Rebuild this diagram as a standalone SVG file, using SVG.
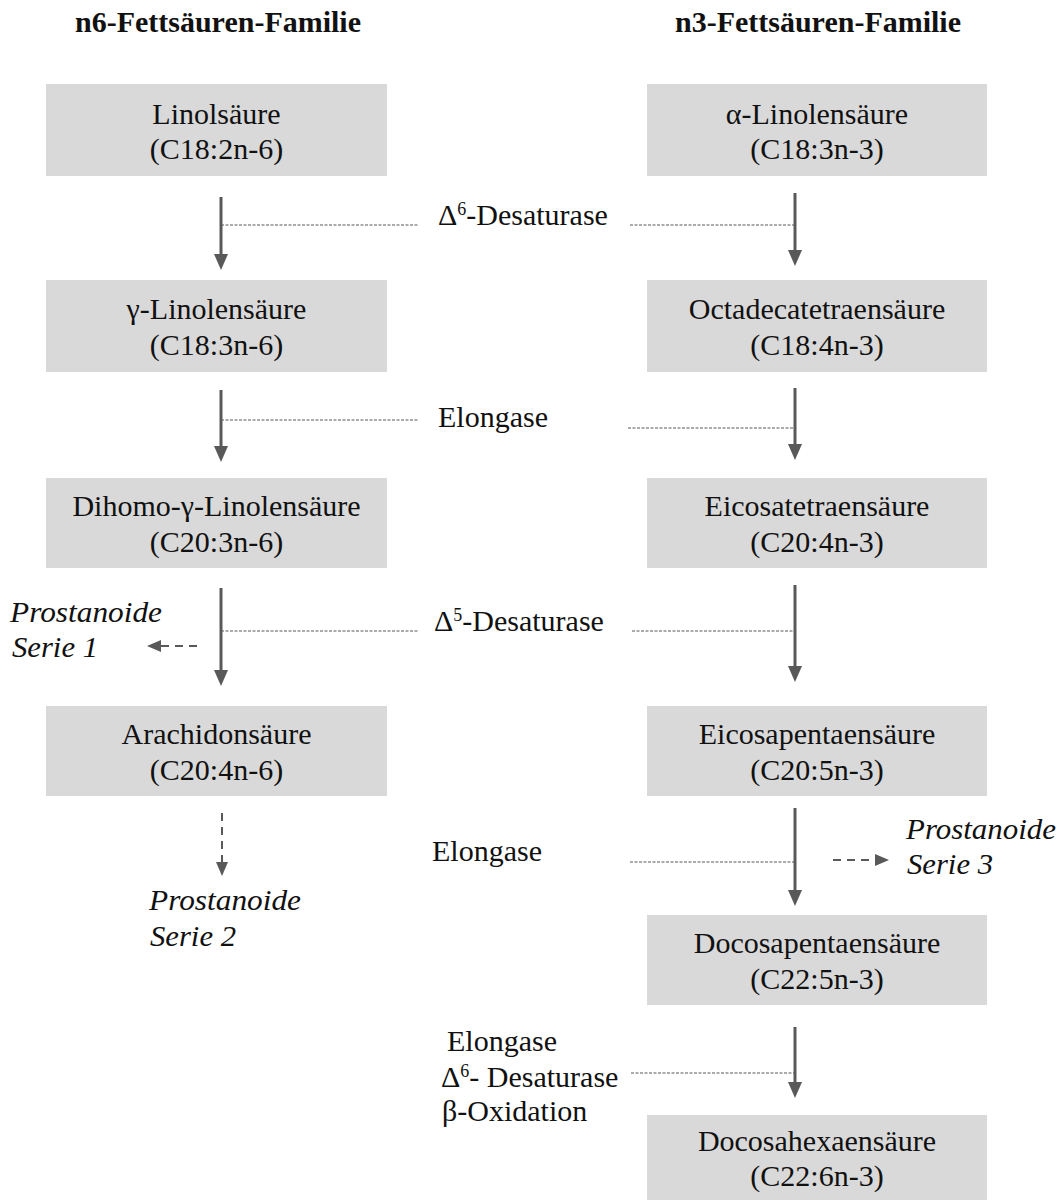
<svg xmlns="http://www.w3.org/2000/svg" width="1060" height="1200" viewBox="0 0 1060 1200">
  <style>
    text { font-family: "Liberation Serif", "Times New Roman", serif; font-size: 30px; fill: #111; }
    .title { font-weight: bold; text-anchor: middle; }
    .box { fill: #d9d9d9; }
    .bt { text-anchor: middle; }
    .it { font-style: italic; }
    .arrow { stroke: #595959; stroke-width: 3; fill: none; }
    .dot { stroke: #595959; stroke-width: 1.2; stroke-dasharray: 3 1.5; fill: none; }
    .dash { stroke: #595959; stroke-width: 2; stroke-dasharray: 8 6; fill: none; }
    .sup { font-size: 18px; }
  </style>
  <defs>
    <marker id="head" viewBox="0 0 16 16" markerWidth="16" markerHeight="16" refX="8" refY="8" orient="auto" markerUnits="userSpaceOnUse">
      <path d="M0,1 L16,8 L0,15 Z" fill="#595959"/>
    </marker>
    <marker id="headS" viewBox="0 0 14 14" markerWidth="14" markerHeight="14" refX="7" refY="7" orient="auto" markerUnits="userSpaceOnUse">
      <path d="M0,1 L14,7 L0,13 Z" fill="#595959"/>
    </marker>
  </defs>

  <g id="titles">
    <text class="title" x="218" y="32">n6-Fettsäuren-Familie</text>
    <text class="title" x="818" y="32">n3-Fettsäuren-Familie</text>
  </g>

  <!-- n6 nodes -->
  <g id="linolsaeure">
    <rect class="box" x="46" y="84" width="341" height="92"/>
    <text class="bt" x="216.5" y="124">Linolsäure</text>
    <text class="bt" x="216.5" y="159">(C18:2n-6)</text>
  </g>
  <g id="gamma-linolensaeure">
    <rect class="box" x="46" y="280" width="341" height="92"/>
    <text class="bt" x="216.5" y="319">γ-Linolensäure</text>
    <text class="bt" x="216.5" y="355">(C18:3n-6)</text>
  </g>
  <g id="dihomo-gamma-linolensaeure">
    <rect class="box" x="46" y="478" width="341" height="90"/>
    <text class="bt" x="216.5" y="516">Dihomo-γ-Linolensäure</text>
    <text class="bt" x="216.5" y="552">(C20:3n-6)</text>
  </g>
  <g id="arachidonsaeure">
    <rect class="box" x="46" y="706" width="341" height="90"/>
    <text class="bt" x="216.5" y="744">Arachidonsäure</text>
    <text class="bt" x="216.5" y="780">(C20:4n-6)</text>
  </g>
  <g id="prostanoide1">
    <text class="it" x="10" y="622" textLength="152" lengthAdjust="spacingAndGlyphs">Prostanoide</text>
    <text class="it" x="12" y="657" textLength="86" lengthAdjust="spacingAndGlyphs">Serie 1</text>
  </g>
  <g id="prostanoide2">
    <text class="it" x="149" y="910" textLength="152" lengthAdjust="spacingAndGlyphs">Prostanoide</text>
    <text class="it" x="150" y="946" textLength="86" lengthAdjust="spacingAndGlyphs">Serie 2</text>
  </g>

  <!-- n3 nodes -->
  <g id="alpha-linolensaeure">
    <rect class="box" x="647" y="84" width="340" height="92"/>
    <text class="bt" x="817" y="124">α-Linolensäure</text>
    <text class="bt" x="817" y="159">(C18:3n-3)</text>
  </g>
  <g id="octadecatetraensaeure">
    <rect class="box" x="647" y="280" width="340" height="92"/>
    <text class="bt" x="817" y="319">Octadecatetraensäure</text>
    <text class="bt" x="817" y="355">(C18:4n-3)</text>
  </g>
  <g id="eicosatetraensaeure">
    <rect class="box" x="647" y="478" width="340" height="90"/>
    <text class="bt" x="817" y="516">Eicosatetraensäure</text>
    <text class="bt" x="817" y="552">(C20:4n-3)</text>
  </g>
  <g id="eicosapentaensaeure">
    <rect class="box" x="647" y="706" width="340" height="90"/>
    <text class="bt" x="817" y="744">Eicosapentaensäure</text>
    <text class="bt" x="817" y="780">(C20:5n-3)</text>
  </g>
  <g id="docosapentaensaeure">
    <rect class="box" x="647" y="915" width="340" height="90"/>
    <text class="bt" x="817" y="953">Docosapentaensäure</text>
    <text class="bt" x="817" y="989">(C22:5n-3)</text>
  </g>
  <g id="docosahexaensaeure">
    <rect class="box" x="647" y="1115" width="340" height="90"/>
    <text class="bt" x="817" y="1151">Docosahexaensäure</text>
    <text class="bt" x="817" y="1186">(C22:6n-3)</text>
  </g>
  <g id="prostanoide3">
    <text class="it" x="906" y="839" textLength="150" lengthAdjust="spacingAndGlyphs">Prostanoide</text>
    <text class="it" x="907" y="874" textLength="86" lengthAdjust="spacingAndGlyphs">Serie 3</text>
  </g>

  <!-- enzyme labels -->
  <g id="enzymes">
    <text x="438" y="225">Δ<tspan class="sup" dy="-10">6</tspan><tspan dy="10">-Desaturase</tspan></text>
    <text x="438" y="427">Elongase</text>
    <text x="434" y="631">Δ<tspan class="sup" dy="-10">5</tspan><tspan dy="10">-Desaturase</tspan></text>
    <text x="432" y="861">Elongase</text>
    <text x="447" y="1051">Elongase</text>
    <text x="441" y="1087">Δ<tspan class="sup" dy="-10">6</tspan><tspan dy="10">- Desaturase</tspan></text>
    <text x="442" y="1121">β-Oxidation</text>
  </g>

  <g id="connectors">
    <!-- row 1 -->
    <line class="arrow" x1="221" y1="197" x2="221" y2="262" marker-end="url(#head)"/>
    <line class="dot" x1="221" y1="225" x2="418" y2="225"/>
    <line class="dot" x1="630" y1="225" x2="795" y2="225"/>
    <line class="arrow" x1="795" y1="193" x2="795" y2="258" marker-end="url(#head)"/>
    <!-- row 2 -->
    <line class="arrow" x1="221" y1="390" x2="221" y2="454" marker-end="url(#head)"/>
    <line class="dot" x1="221" y1="420" x2="418" y2="420"/>
    <line class="dot" x1="628" y1="428" x2="795" y2="428"/>
    <line class="arrow" x1="795" y1="388" x2="795" y2="452" marker-end="url(#head)"/>
    <!-- row 3 -->
    <line class="arrow" x1="221" y1="588" x2="221" y2="678" marker-end="url(#head)"/>
    <line class="dot" x1="221" y1="631" x2="418" y2="631"/>
    <line class="dot" x1="632" y1="631" x2="795" y2="631"/>
    <line class="arrow" x1="795" y1="585" x2="795" y2="674" marker-end="url(#head)"/>
    <line class="dash" x1="197" y1="646" x2="154" y2="646" marker-end="url(#headS)"/>
    <!-- row 4 -->
    <line class="dash" x1="222" y1="813" x2="222" y2="869" marker-end="url(#headS)"/>
    <line class="arrow" x1="795" y1="808" x2="795" y2="898" marker-end="url(#head)"/>
    <line class="dot" x1="630" y1="862" x2="795" y2="862"/>
    <line class="dash" x1="833" y1="860" x2="882" y2="860" marker-end="url(#headS)"/>
    <!-- row 5 -->
    <line class="arrow" x1="795" y1="1027" x2="795" y2="1090" marker-end="url(#head)"/>
    <line class="dot" x1="631" y1="1073" x2="795" y2="1073"/>
  </g>
</svg>
